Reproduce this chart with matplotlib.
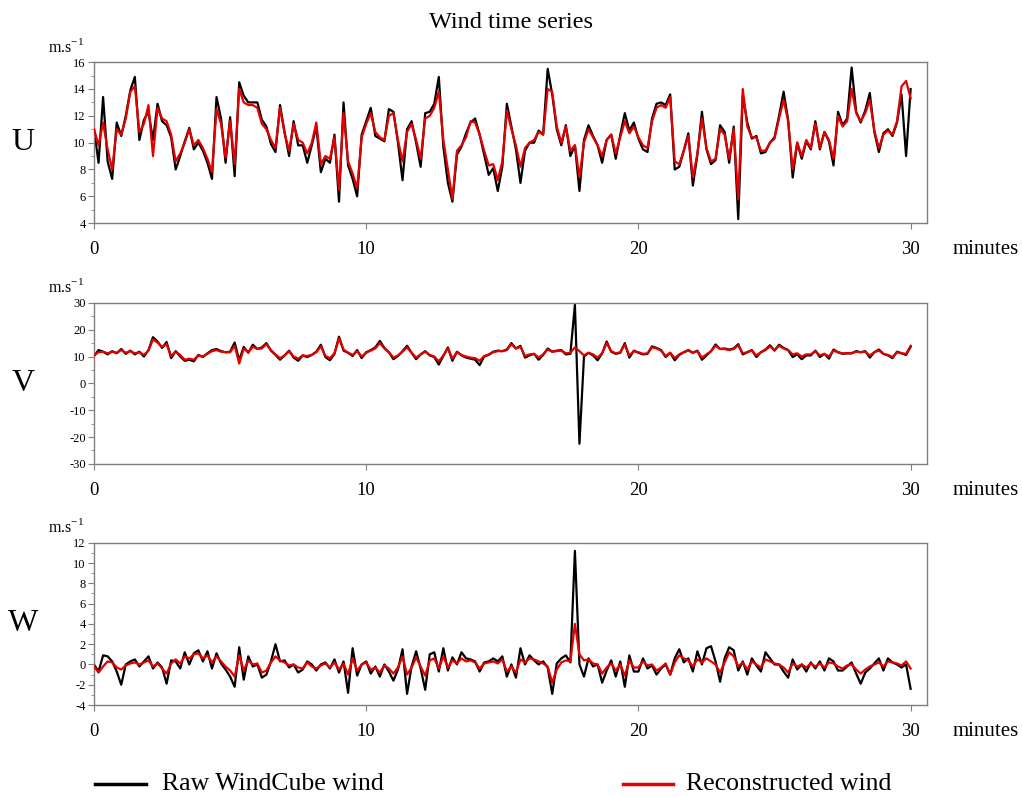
"""Wind time series: raw WindCube vs reconstructed wind (U, V, W components)."""

import matplotlib
matplotlib.use("Agg")
import matplotlib.pyplot as plt
import numpy as np
from matplotlib.lines import Line2D
from matplotlib.ticker import MultipleLocator

plt.rcParams["font.family"] = ["Liberation Serif", "DejaVu Serif"]
plt.rcParams["mathtext.fontset"] = "custom"
plt.rcParams["mathtext.rm"] = "Liberation Serif"
plt.rcParams["axes.unicode_minus"] = False

# 10-second samples over 30 minutes
N_SAMPLES = 181
DURATION_MIN = 30

# ── U component (m/s) ────────────────────────────────────────────────────
u_raw = [
    11.0, 8.5, 13.4, 8.6, 7.3, 11.5, 10.5, 12.0, 13.9, 14.9,
    10.2, 11.7, 12.3, 10.2, 12.9, 11.6, 11.3, 10.4, 8.0, 9.0,
    10.1, 11.1, 9.5, 10.0, 9.4, 8.5, 7.3, 13.4, 11.8, 8.5,
    11.9, 7.5, 14.5, 13.5, 13.0, 13.0, 13.0, 11.7, 11.2, 9.9,
    9.3, 12.8, 10.8, 9.0, 11.6, 9.8, 9.8, 8.5, 9.8, 11.2,
    7.8, 8.8, 8.5, 10.6, 5.6, 13.0, 8.3, 7.3, 6.0, 10.6,
    11.6,
    12.6, 10.5, 10.3, 10.1, 12.5, 12.3, 10.0, 7.2, 11.0, 11.6,
    10.0, 8.2, 12.2, 12.3, 12.9, 14.9, 9.7, 7.0, 5.6, 9.1,
    9.7, 10.7, 11.5, 11.8, 10.6, 9.1, 7.6, 8.1, 6.4, 8.2,
    12.9, 11.2, 9.5, 7.0, 9.4, 10.0, 10.0, 10.9, 10.6, 15.5,
    13.6, 11.0, 9.8, 11.3, 9.0, 9.8, 6.4, 10.2, 11.3, 10.5,
    9.8, 8.5, 10.2, 10.6, 8.8, 10.6, 12.2, 10.9, 11.5, 10.3,
    9.5, 9.3, 11.8, 12.9, 13.0, 12.8, 13.6, 8.0, 8.2, 9.4,
    10.7, 6.8, 9.1, 12.3, 9.5, 8.4, 8.7, 11.3, 10.8, 8.5,
    11.2, 4.3, 13.5, 11.5, 10.3, 10.5, 9.2, 9.3, 10.0, 10.4,
    12.0, 13.8, 11.7, 7.4, 10.0, 8.8, 10.1, 9.5, 11.6, 9.5,
    10.8, 10.1, 8.3, 12.3, 11.3, 11.8, 15.6, 12.3, 11.5, 12.4,
    13.7, 10.8, 9.3, 10.7, 11.0, 10.5, 11.5, 13.6, 9.0, 14.0,
]
u_rec = [
    11.0, 9.8, 11.5, 9.5, 8.0, 11.0, 10.6, 11.8, 13.8, 14.2,
    10.8, 11.4, 12.8, 9.0, 12.6, 11.8, 11.6, 10.6, 8.6, 9.2,
    10.0, 11.0, 9.8, 10.2, 9.6, 8.8, 7.8, 12.5, 11.4, 8.9,
    11.6, 8.4, 14.0, 13.0, 12.8, 12.8, 12.6, 11.4, 11.0, 10.2,
    9.6, 12.6, 10.7, 9.4, 11.4, 10.2, 10.0, 9.2, 10.0, 11.5,
    8.4, 9.0, 8.8, 10.4, 6.5, 12.2, 8.6, 7.7, 6.6, 10.4,
    11.4,
    12.2, 10.8, 10.4, 10.2, 12.0, 12.2, 10.2, 8.6, 10.8, 11.4,
    10.2, 8.8, 11.8, 12.0, 12.6, 13.8, 10.2, 8.0, 5.8, 9.4,
    9.8, 10.4, 11.6, 11.5, 10.6, 9.4, 8.3, 8.4, 7.2, 8.6,
    12.4, 11.0, 9.8, 8.2, 9.6, 10.0, 10.2, 10.8, 10.6, 14.0,
    13.8, 11.2, 10.0, 11.2, 9.4, 9.8, 7.4, 10.0, 11.0, 10.4,
    9.8, 9.0, 10.2, 10.6, 9.2, 10.4, 11.6, 10.7, 11.2, 10.4,
    9.8, 9.6, 11.6, 12.6, 12.8, 12.6, 13.4, 8.6, 8.4, 9.4,
    10.5, 7.4, 9.2, 11.8, 9.6, 8.6, 8.8, 11.0, 10.6, 8.8,
    11.0, 5.8, 14.0, 11.2, 10.4, 10.4, 9.4, 9.4, 10.0, 10.3,
    11.8, 13.2, 11.6, 8.0, 10.0, 9.0, 10.2, 9.6, 11.4, 9.6,
    10.8, 10.2, 8.8, 12.0, 11.2, 11.6, 14.0, 12.2, 11.6, 12.2,
    13.2, 10.9, 9.6, 10.6, 10.9, 10.6, 11.6, 14.2, 14.6, 13.3,
]

# ── V component (m/s) ────────────────────────────────────────────────────
v_raw = [
    10.2, 12.4, 11.8, 10.8, 12.0, 11.2, 12.8, 11.0, 12.2, 10.8,
    11.8, 10.0, 12.4, 17.2, 15.6, 13.2, 15.4, 9.4, 12.0, 10.0,
    8.4, 8.8, 8.2, 10.6, 9.8, 11.2, 12.4, 12.8, 12.0, 11.6,
    11.8, 15.2, 8.6, 13.6, 11.4, 14.4, 12.8, 13.4, 15.0, 12.2,
    10.6, 8.8, 10.4, 12.2, 9.6, 8.4, 10.4, 9.8, 10.6, 11.8,
    14.4, 9.8, 8.6, 11.0, 17.4, 12.2, 11.4, 10.2, 12.4, 9.4,
    11.6, 12.4, 13.4, 15.8, 13.2, 11.6, 9.0, 10.2, 12.0, 14.0,
    11.4, 9.0, 10.8, 12.0, 10.4, 9.8, 7.0, 10.2, 13.4, 8.4,
    11.8, 10.4, 9.6, 9.2, 8.8, 6.8, 10.0, 10.6, 11.8, 12.2,
    12.0, 12.6, 15.0, 13.0, 14.0, 9.6, 10.4, 11.0, 8.8, 10.6,
    13.0, 11.8, 12.2, 12.4, 10.8, 11.0, 29.3, -22.5, 10.0, 11.4,
    10.4, 8.6, 11.2, 15.6, 11.8, 11.0, 11.4, 15.0, 9.6, 12.2,
    11.4, 10.8, 11.0, 13.8, 13.2, 12.4, 9.8, 11.4, 8.6, 10.6,
    11.6, 12.4, 11.4, 12.2, 8.8, 10.4, 12.0, 14.5, 12.8, 13.0,
    12.6, 13.0, 14.6, 10.8, 11.6, 12.4, 9.8, 11.6, 12.6, 14.2,
    12.2, 14.4, 13.2, 12.4, 9.8, 10.8, 9.0, 10.4, 10.4, 12.2,
    9.8, 11.0, 9.2, 12.6, 11.6, 11.0, 11.2, 11.2, 12.0, 11.6,
    12.0, 9.6, 11.6, 12.6, 11.0, 10.4, 9.4, 11.8, 11.2, 10.6,
    13.6,
]
v_rec = [
    10.4, 11.6, 11.8, 11.2, 11.8, 11.4, 12.4, 11.4, 12.0, 11.2,
    11.6, 10.6, 12.2, 16.4, 15.2, 13.6, 14.6, 10.2, 11.8, 10.6,
    8.8, 9.2, 8.8, 10.4, 10.0, 11.0, 12.0, 12.4, 11.8, 11.6,
    11.6, 14.0, 7.4, 13.0, 11.6, 13.6, 12.8, 13.0, 14.6, 12.4,
    10.8, 9.4, 10.4, 12.0, 10.0, 9.2, 10.4, 10.2, 10.6, 11.6,
    13.8, 10.2, 9.4, 11.2, 16.8, 12.6, 11.4, 10.6, 12.0, 10.0,
    11.4, 12.2, 13.0, 15.0, 13.0, 11.6, 9.6, 10.4, 11.8, 13.4,
    11.4, 9.6, 10.8, 11.8, 10.6, 10.0, 8.2, 10.4, 13.0, 9.2,
    11.6, 10.6, 10.0, 9.6, 9.4, 8.4, 10.2, 10.8, 11.6, 12.0,
    12.0, 12.4, 14.6, 13.0, 13.6, 10.2, 10.8, 11.0, 9.6, 10.8,
    12.6, 11.8, 12.0, 12.2, 11.2, 11.4, 13.4, 12.0, 10.4, 11.4,
    10.8, 9.6, 11.2, 15.0, 12.0, 11.2, 11.6, 14.4, 10.4, 12.0,
    11.6, 11.0, 11.2, 13.4, 13.0, 12.2, 10.2, 11.4, 9.4, 10.8,
    11.6, 12.2, 11.4, 12.0, 9.6, 10.8, 12.0, 14.0, 12.8, 12.8,
    12.4, 12.8, 14.2, 11.2, 11.6, 12.2, 10.4, 11.6, 12.4, 13.8,
    12.4, 14.0, 13.0, 12.4, 10.8, 11.2, 10.0, 10.8, 10.8, 12.0,
    10.4, 11.0, 10.0, 12.2, 11.6, 11.2, 11.2, 11.2, 11.8, 11.6,
    11.8, 10.4, 11.6, 12.2, 11.0, 10.6, 9.8, 11.6, 11.2, 11.0,
    14.0,
]

# ── W component (m/s) ────────────────────────────────────────────────────
w_raw = [
    0.0, -0.7, 0.9, 0.8, 0.3, -0.7, -2.0, 0.0, 0.3, 0.5,
    -0.2, 0.3, 0.8, -0.4, 0.2, -0.3, -1.9, 0.4, 0.3, -0.4,
    1.2, 0.0, 1.1, 1.4, 0.3, 1.3, -0.4, 1.1, 0.1, -0.5,
    -1.2, -2.2, 1.7, -1.5, 0.8, -0.2, 0.0, -1.3, -1.0, 0.3,
    2.0, 0.3, 0.4, -0.3, 0.0, -0.8, -0.5, 0.3, 0.0, -0.6,
    0.0, 0.2, -0.4, 0.5, -0.8, 0.3, -2.8, 1.6, -1.1, 0.0,
    0.3, -0.9, -0.2, -1.2, 0.0, -0.7, -1.6, -0.5, 1.5, -2.9,
    -0.2, 1.3, -0.4, -2.5, 1.0, 1.2, -0.7, 1.6, -0.6, 0.7,
    0.0, 1.2, 0.6, 0.5, 0.3, -0.7, 0.2, 0.3, 0.6, 0.3,
    0.8, -1.2, 0.0, -1.3, 1.6, 0.0, 0.9, 0.4, 0.0, 0.3,
    -0.3, -2.9, 0.1, 0.6, 0.9, 0.2, 11.2, 0.0, -1.2, 0.6,
    -0.2, 0.0, -1.8, -0.6, 0.4, -1.2, 0.3, -2.2, 0.9, -0.7,
    -0.7, 0.6, -0.4, -0.1, -1.0, -0.4, 0.0, -1.0, 0.6, 1.5,
    0.2, 0.6, -0.7, 1.3, 0.0, 1.6, 1.8, 0.3, -1.7, 0.6,
    1.7, 1.4, -0.6, 0.3, -1.0, 0.6, -0.1, -0.7, 1.2, 0.6,
    0.0, 0.0, -0.7, -1.3, 0.5, -0.5, 0.0, -0.7, 0.2, -0.4,
    0.3, -0.6, 0.6, 0.3, -0.6, -0.6, -0.2, 0.2, -0.9, -1.9,
    -0.8, -0.4, 0.1, 0.6, -0.6, 0.6, 0.2, 0.0, -0.3, 0.0,
    -2.4,
]
w_rec = [
    -0.2, -0.8, -0.2, 0.3, 0.2, -0.3, -0.5, -0.1, 0.1, 0.2,
    0.0, 0.2, 0.4, -0.2, 0.1, -0.4, -0.9, 0.1, 0.5, 0.1,
    0.8, 0.6, 1.0, 1.1, 0.6, 0.9, 0.2, 0.8, 0.3, -0.2,
    -0.6, -1.2, 0.9, -0.6, 0.4, 0.0, 0.1, -0.8, -0.6, 0.2,
    0.8, 0.4, 0.2, -0.1, 0.0, -0.3, -0.4, 0.2, -0.2, -0.4,
    -0.1, 0.1, -0.3, 0.2, -0.5, 0.1, -1.0, 0.6, -0.6, 0.0,
    0.2, -0.5, -0.3, -0.8, -0.1, -0.4, -0.9, -0.3, 0.8, -1.0,
    -0.3, 0.7, -0.2, -1.1, 0.4, 0.6, -0.4, 0.8, -0.3, 0.4,
    0.1, 0.6, 0.3, 0.4, 0.2, -0.4, 0.1, 0.2, 0.3, 0.1,
    0.5, -0.7, -0.2, -0.8, 0.5, 0.2, 0.6, 0.5, 0.3, 0.1,
    -0.2, -1.8, -0.5, 0.2, 0.4, 0.3, 4.0, 1.0, 0.4, 0.5,
    0.1, 0.0, -0.9, -0.3, 0.1, -0.6, 0.0, -1.1, 0.4, -0.3,
    -0.3, 0.3, -0.1, 0.0, -0.6, -0.3, 0.1, -1.0, 0.2, 0.9,
    0.6, 0.4, -0.2, 0.5, 0.2, 0.6, 0.3, 0.0, -0.8, 0.2,
    1.2, 0.8, -0.2, 0.2, -0.5, 0.3, 0.0, -0.3, 0.5, 0.3,
    0.1, 0.0, -0.3, -0.8, 0.1, -0.2, 0.0, -0.3, 0.1, -0.2,
    0.1, -0.3, 0.2, 0.1, -0.2, -0.4, -0.1, 0.0, -0.5, -0.9,
    -0.5, -0.2, 0.0, 0.2, -0.2, 0.3, 0.2, 0.1, -0.1, 0.3,
    -0.4,
]

components = ["U", "V", "W"]
y_limits = {"U": (4, 16), "V": (-30, 30), "W": (-4, 12)}
y_major = {"U": 2, "V": 10, "W": 2}
y_minor = {"U": 1, "V": 5, "W": 1}
x_ticks = [0, 10, 20, 30]

series = {"U": (u_raw, u_rec), "V": (v_raw, v_rec), "W": (w_raw, w_rec)}
t = np.linspace(0, DURATION_MIN, N_SAMPLES)

SPINE_COLOR = "#7f7f7f"
RAW_COLOR = "#000000"
REC_COLOR = "#e50000"

fig = plt.figure(figsize=(10.22, 7.97), dpi=100)
# axes boxes in figure fraction: [left, bottom, width, height]
boxes = {
    "U": [0.092, 0.720, 0.815, 0.202],
    "V": [0.092, 0.418, 0.815, 0.202],
    "W": [0.092, 0.1154, 0.815, 0.2036],
}

for comp in components:
    ax = fig.add_axes(boxes[comp])
    raw, rec = series[comp]
    ax.plot(t, raw, color=RAW_COLOR, lw=1.6, zorder=2)
    ax.plot(t, rec, color=REC_COLOR, lw=1.6, zorder=3)

    ax.set_xlim(0, 30.6)
    ax.set_ylim(*y_limits[comp])
    ax.yaxis.set_major_locator(MultipleLocator(y_major[comp]))
    ax.yaxis.set_minor_locator(MultipleLocator(y_minor[comp]))
    ax.set_xticks(x_ticks)
    ax.set_xticklabels([str(x) for x in x_ticks])

    for sp in ax.spines.values():
        sp.set_color(SPINE_COLOR)
        sp.set_linewidth(1.0)
    ax.tick_params(axis="y", which="major", direction="out", length=4,
                   color=SPINE_COLOR, labelsize=9, pad=2)
    ax.tick_params(axis="y", which="minor", direction="out", length=2.5,
                   color=SPINE_COLOR)
    ax.tick_params(axis="x", which="major", direction="out", length=4,
                   color=SPINE_COLOR, labelsize=13.5, pad=9)

    # unit label above the y axis, component letter on the left
    ax.text(-0.012, 1.04, r"m.s$^{\mathrm{-1}}$", transform=ax.transAxes,
            ha="right", va="bottom", fontsize=11.5)
    ax.text(-0.085, 0.5, comp, transform=ax.transAxes,
            ha="center", va="center", fontsize=23)
    ax.text(1.07, -0.165, "minutes", transform=ax.transAxes,
            ha="center", va="center", fontsize=15)

fig.text(0.5, 0.972, "Wind time series", ha="center", va="center", fontsize=17.5)

# legend along the bottom edge
leg_y = 1 - 784 / 797
fig.add_artist(Line2D([95 / 1022, 146 / 1022], [leg_y, leg_y],
                      color=RAW_COLOR, lw=2.5, transform=fig.transFigure))
fig.text(162 / 1022, leg_y, "Raw WindCube wind", ha="left", va="center",
         fontsize=18.5)
fig.add_artist(Line2D([623 / 1022, 673 / 1022], [leg_y, leg_y],
                      color=REC_COLOR, lw=2.5, transform=fig.transFigure))
fig.text(686 / 1022, leg_y, "Reconstructed wind", ha="left", va="center",
         fontsize=18.5)

fig.savefig("out.png", dpi=100)
